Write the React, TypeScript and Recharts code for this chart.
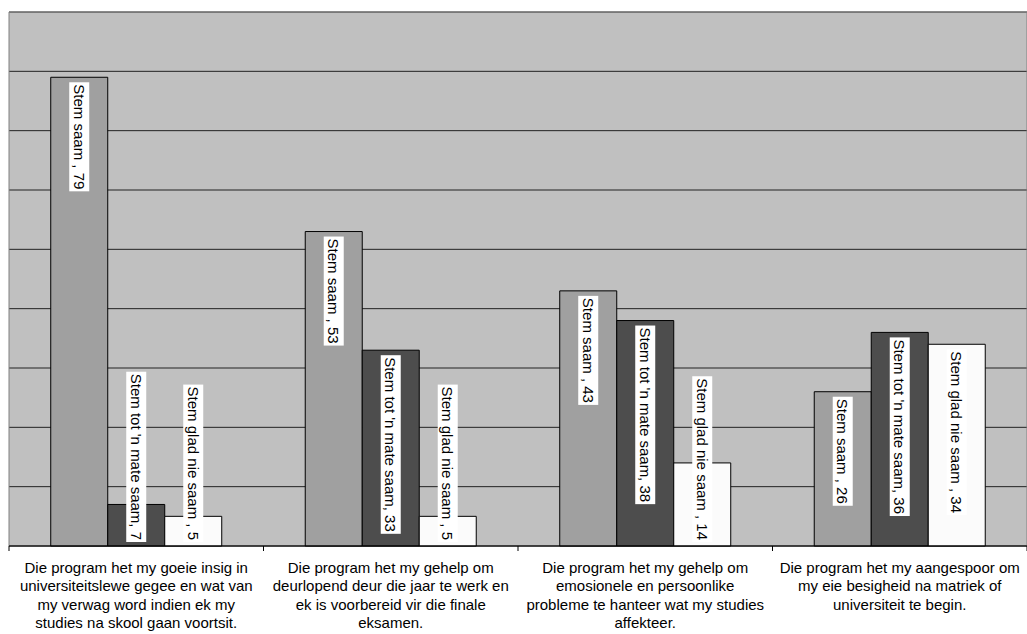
import React from "react";
import { BarChart, Bar, XAxis, YAxis, CartesianGrid, ReferenceArea, LabelList } from "recharts";

const categories = [
  "Die program het my goeie insig in\nuniversiteitslewe gegee en wat van\nmy verwag word indien ek my\nstudies na skool gaan voortsit.",
  "Die program het my gehelp om\ndeurlopend deur die jaar te werk en\nek is voorbereid vir die finale\neksamen.",
  "Die program het my gehelp om\nemosionele en persoonlike\nprobleme te hanteer wat my studies\naffekteer.",
  "Die program het my aangespoor om\nmy eie besigheid na matriek of\nuniversiteit te begin.",
];
const stemSaam = [79, 53, 43, 26];
const stemTotMate = [7, 33, 38, 36];
const stemGladNie = [5, 5, 14, 34];
const seriesNames = ["Stem saam ", "Stem tot 'n mate saam", "Stem glad nie saam "];
const yTicks = [0, 10, 20, 30, 40, 50, 60, 70, 80, 90];

const data = categories.map((c, i) => ({
  name: c,
  s1: stemSaam[i],
  s2: stemTotMate[i],
  s3: stemGladNie[i],
}));

const FONT = "'Liberation Sans', Arial, sans-serif";
const W = 1027;
const H = 634;
const M = { top: 12, right: 0, left: 9, bottom: 0 };
const band = (W - M.left - M.right) / categories.length;

let ctx: CanvasRenderingContext2D | null = null;
function measure(text: string, size: number) {
  if (!ctx) ctx = document.createElement("canvas").getContext("2d");
  if (!ctx) return text.length * size * 0.5;
  ctx.font = `${size}px ${FONT}`;
  return ctx.measureText(text).width;
}

const makeLabel = (series: string) => (props: any) => {
  const { x, y, width, height, value } = props;
  const size = 15;
  const text = `${series.trimEnd() === series ? series : series}, ${value}`;
  const len = measure(text, size) + 4;
  const bottom = y + height;
  const top = Math.min(y + 5, bottom - 4 - len);
  const cx = x + width / 2;
  return (
    <g transform={`translate(${cx},${top}) rotate(90)`}>
      <rect x={0} y={-10} width={len} height={20} fill="#ffffff" />
      <text x={2} y={5.5} fontSize={size} fontFamily={FONT} fill="#000">
        {text}
      </text>
    </g>
  );
};

const CategoryTick = (props: any) => {
  const { x, y, payload, index } = props;
  const lines = String(payload.value).split("\n");
  const axisY = y - 8;
  return (
    <g>
      <line x1={x - band / 2} y1={axisY} x2={x - band / 2} y2={axisY + 5} stroke="#000" />
      {index === categories.length - 1 && (
        <line x1={x + band / 2} y1={axisY} x2={x + band / 2} y2={axisY + 5} stroke="#000" />
      )}
      <text textAnchor="middle" fontSize={15} fontFamily={FONT} fill="#000">
        {lines.map((l, i) => (
          <tspan key={i} x={x} y={axisY + 27 + i * 18.4}>
            {l}
          </tspan>
        ))}
      </text>
    </g>
  );
};

export default function App() {
  return (
    <div style={{ position: "absolute", left: 0, top: 0, background: "#fff" }}>
      <BarChart
        width={W}
        height={H}
        data={data}
        margin={M}
        barCategoryGap="16.4%"
        barGap={0}
      >
        <CartesianGrid vertical={false} fill="#c0c0c0" stroke="#222" strokeOpacity={1} />
        <ReferenceArea y1={0} y2={90} fill="none" stroke="#808080" ifOverflow="visible" />
        <XAxis
          dataKey="name"
          interval={0}
          height={88}
          axisLine={{ stroke: "#000" }}
          tickLine={false}
          tick={<CategoryTick />}
        />
        <YAxis hide domain={[0, 90]} ticks={yTicks} />
        <Bar dataKey="s1" fill="#a0a0a0" stroke="#000" isAnimationActive={false}>
          <LabelList dataKey="s1" content={makeLabel(seriesNames[0])} />
        </Bar>
        <Bar dataKey="s2" fill="#4d4d4d" stroke="#000" isAnimationActive={false}>
          <LabelList dataKey="s2" content={makeLabel(seriesNames[1])} />
        </Bar>
        <Bar dataKey="s3" fill="#fbfbfb" stroke="#000" isAnimationActive={false}>
          <LabelList dataKey="s3" content={makeLabel(seriesNames[2])} />
        </Bar>
      </BarChart>
    </div>
  );
}
